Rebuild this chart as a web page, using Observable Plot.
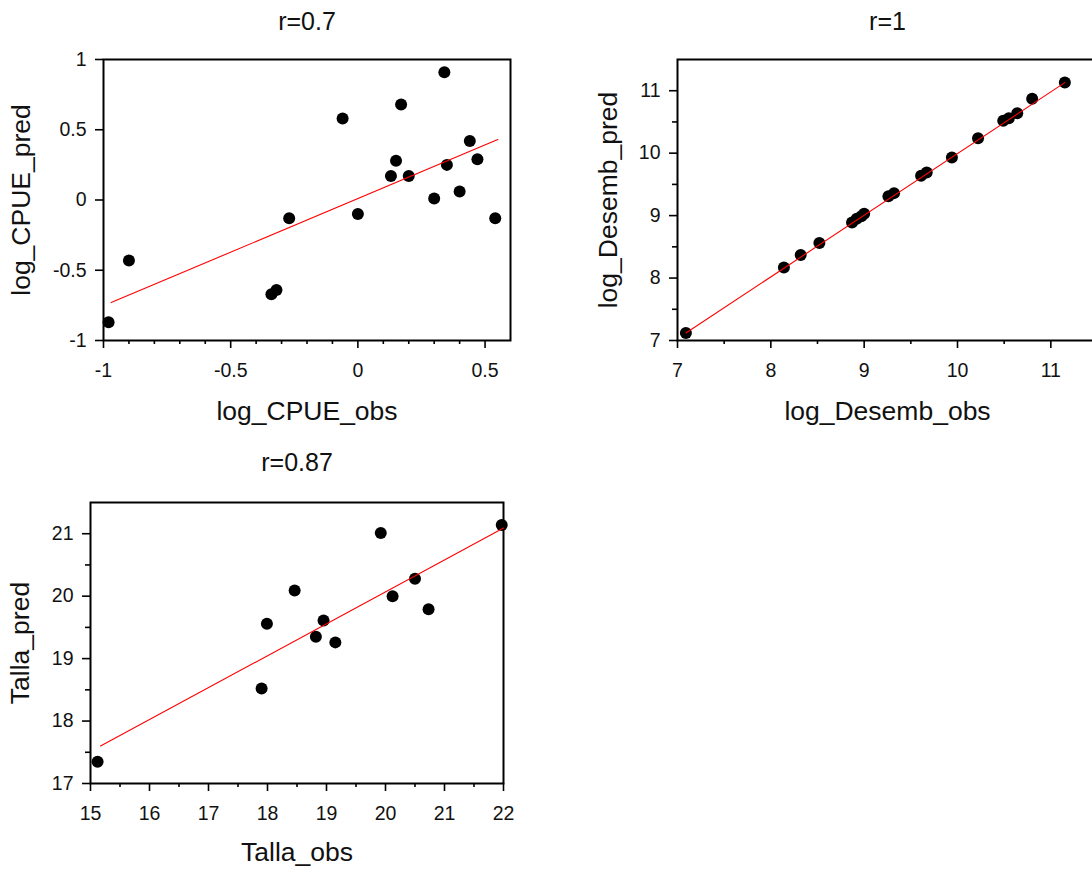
<!DOCTYPE html>
<html>
<head>
<meta charset="utf-8">
<script src="https://cdn.jsdelivr.net/npm/d3@7"></script>
<script src="https://cdn.jsdelivr.net/npm/@observablehq/plot@0.6"></script>
<style>
  html, body { margin: 0; padding: 0; background: #fff; overflow: hidden; }
  #wrap { position: relative; width: 1092px; height: 877px; overflow: hidden; }
  #wrap svg { position: absolute; overflow: visible; }
</style>
</head>
<body>
<div id="wrap"></div>
<script>
// ---- Panel 1: log_CPUE ----
const cpueObs  = [-0.98, -0.90, -0.34, -0.32, -0.27, -0.06, 0.00, 0.13, 0.15, 0.17, 0.20, 0.30, 0.34, 0.35, 0.40, 0.44, 0.47, 0.54];
const cpuePred = [-0.87, -0.43, -0.67, -0.64, -0.13, 0.58, -0.10, 0.17, 0.28, 0.68, 0.17, 0.01, 0.91, 0.25, 0.06, 0.42, 0.29, -0.13];
const cpueFitX = [-0.97, 0.55];
const cpueFitY = [-0.73, 0.43];
const cpueXTicks = [-1, -0.5, 0, 0.5];
const cpueXMinor = [-0.9, -0.8, -0.7, -0.6, -0.4, -0.3, -0.2, -0.1, 0.1, 0.2, 0.3, 0.4];
const cpueYTicks = [-1, -0.5, 0, 0.5, 1];
const cpueYMinor = [];

// ---- Panel 2: log_Desemb ----
const desObs  = [7.09, 8.14, 8.32, 8.52, 8.87, 8.92, 8.97, 9.00, 9.26, 9.32, 9.61, 9.67, 9.94, 10.22, 10.49, 10.55, 10.64, 10.80, 11.15];
const desPred = [7.12, 8.17, 8.37, 8.56, 8.89, 8.95, 8.99, 9.03, 9.31, 9.36, 9.64, 9.69, 9.93, 10.24, 10.52, 10.56, 10.64, 10.87, 11.13];
const desFitX = [7.09, 11.15];
const desFitY = [7.12, 11.13];
const desXTicks = [7, 8, 9, 10, 11];
const desXMinor = [7.5, 8.5, 9.5, 10.5];
const desYTicks = [7, 8, 9, 10, 11];
const desYMinor = [7.5, 8.5, 9.5, 10.5];

// ---- Panel 3: Talla ----
const tallaObs  = [15.12, 17.90, 17.99, 18.46, 18.82, 18.95, 19.15, 19.92, 20.12, 20.50, 20.73, 21.97];
const tallaPred = [17.35, 18.52, 19.56, 20.09, 19.35, 19.61, 19.26, 21.01, 20.00, 20.28, 19.79, 21.14];
const tallaFitX = [15.17, 22.0];
const tallaFitY = [17.60, 21.09];
const tallaXTicks = [15, 16, 17, 18, 19, 20, 21, 22];
const tallaXMinor = [15.5, 16.5, 17.5, 18.5, 19.5, 20.5, 21.5];
const tallaYTicks = [17, 18, 19, 20, 21];
const tallaYMinor = [17.5, 18.5, 19.5, 20.5];

const FONT = "'Liberation Sans', Arial, sans-serif";
const INK = "#111";
const TICK_FS = 19.5, TITLE_FS = 25, LABEL_FS = 26.5;

function panel(cfg) {
  const pts = cfg.obs.map((v, i) => ({x: v, y: cfg.pred[i]}));
  const fit = cfg.fitX.map((v, i) => ({x: v, y: cfg.fitY[i]}));
  const marks = [
    Plot.frame({stroke: "black", strokeWidth: 2}),
    Plot.axisX({ticks: cfg.xTicks, tickSize: 8, tickPadding: 15, tickFormat: d => String(d),
                label: null, strokeWidth: 1.6, stroke: "black", fill: INK, fontSize: TICK_FS}),
    Plot.axisY({ticks: cfg.yTicks, tickSize: 8, tickPadding: 9, tickFormat: d => String(d),
                label: null, strokeWidth: 1.6, stroke: "black", fill: INK, fontSize: TICK_FS}),
    Plot.dot(pts, {x: "x", y: "y", r: 6, fill: "black", stroke: null}),
    Plot.line(fit, {x: "x", y: "y", stroke: "#ff0000", strokeWidth: 1.1}),
    Plot.text([cfg.title], {text: d => d, frameAnchor: "top", lineAnchor: "middle", dy: cfg.titleDy,
                            fontSize: TITLE_FS, fill: INK}),
    Plot.text([cfg.xLabel], {text: d => d, frameAnchor: "bottom", lineAnchor: "middle", dy: cfg.xLabelDy,
                             fontSize: LABEL_FS, fill: INK}),
    Plot.text([cfg.yLabel], {text: d => d, frameAnchor: "left", textAnchor: "middle", lineAnchor: "middle",
                             rotate: -90, dx: cfg.yLabelDx, fontSize: LABEL_FS, fill: INK})
  ];
  if (cfg.xMinor.length) marks.push(Plot.axisX({ticks: cfg.xMinor, tickSize: 4, tickFormat: () => "", label: null, strokeWidth: 1.6, stroke: "black"}));
  if (cfg.yMinor.length) marks.push(Plot.axisY({ticks: cfg.yMinor, tickSize: 5, tickFormat: () => "", label: null, strokeWidth: 1.6, stroke: "black"}));
  const svg = Plot.plot({
    width: cfg.width, height: cfg.height,
    marginLeft: cfg.ml, marginRight: cfg.mr, marginTop: cfg.mt, marginBottom: cfg.mb,
    x: {domain: cfg.xDomain},
    y: {domain: cfg.yDomain},
    style: {fontFamily: FONT, fontSize: TICK_FS + "px", background: "transparent", color: INK},
    marks
  });
  svg.style.left = cfg.left + "px";
  svg.style.top = cfg.top + "px";
  document.getElementById("wrap").appendChild(svg);
}

panel({
  obs: cpueObs, pred: cpuePred, fitX: cpueFitX, fitY: cpueFitY,
  xTicks: cpueXTicks, xMinor: cpueXMinor, yTicks: cpueYTicks, yMinor: cpueYMinor,
  xDomain: [-1, 0.6], yDomain: [-1, 1],
  title: "r=0.7", xLabel: "log_CPUE_obs", yLabel: "log_CPUE_pred",
  left: 0, top: 0, width: 546, height: 440, ml: 103, mr: 36, mt: 59, mb: 100,
  titleDy: -38, xLabelDy: 71, yLabelDx: -82
});

panel({
  obs: desObs, pred: desPred, fitX: desFitX, fitY: desFitY,
  xTicks: desXTicks, xMinor: desXMinor, yTicks: desYTicks, yMinor: desYMinor,
  xDomain: [7, 11.5], yDomain: [7, 11.5],
  title: "r=1", xLabel: "log_Desemb_obs", yLabel: "log_Desemb_pred",
  left: 580, top: 0, width: 517, height: 440, ml: 97, mr: 0, mt: 59, mb: 100,
  titleDy: -38, xLabelDy: 71, yLabelDx: -69
});

panel({
  obs: tallaObs, pred: tallaPred, fitX: tallaFitX, fitY: tallaFitY,
  xTicks: tallaXTicks, xMinor: tallaXMinor, yTicks: tallaYTicks, yMinor: tallaYMinor,
  xDomain: [15, 22], yDomain: [17, 21.5],
  title: "r=0.87", xLabel: "Talla_obs", yLabel: "Talla_pred",
  left: 0, top: 440, width: 546, height: 437, ml: 90, mr: 43, mt: 62, mb: 94,
  titleDy: -40, xLabelDy: 69, yLabelDx: -70
});
</script>
</body>
</html>
